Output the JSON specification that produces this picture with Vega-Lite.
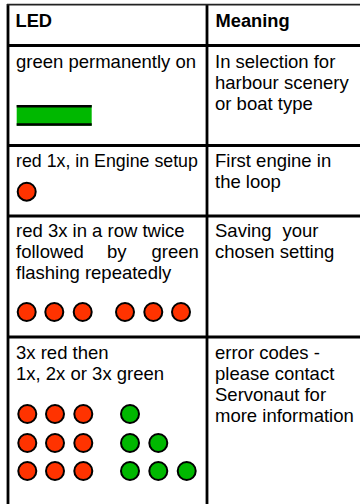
{
  "$schema": "https://vega.github.io/schema/vega-lite/v6.json",
  "width": 360,
  "height": 504,
  "autosize": {"type": "none"},
  "padding": 0,
  "background": "white",
  "config": {"view": {"stroke": null}},
  "datasets": {
    "grid": [
      {"x": 7, "x2": 360, "y": 45.5, "y2": 45.5},
      {"x": 7, "x2": 360, "y": 145.5, "y2": 145.5},
      {"x": 7, "x2": 360, "y": 216, "y2": 216},
      {"x": 7, "x2": 360, "y": 337, "y2": 337},
      {"x": 8, "x2": 8, "y": 4, "y2": 504},
      {"x": 207, "x2": 207, "y": 4, "y2": 504}
    ],
    "top": [
      {"x": 7, "x2": 360, "y": 4.7, "y2": 4.7}
    ],
    "bar": [
      {"x": 16.7, "x2": 91.7, "y": 105, "y2": 125.7}
    ],
    "barEdges": [
      {"x": 16.7, "x2": 91.7, "y": 106.3, "y2": 106.3},
      {"x": 16.7, "x2": 91.7, "y": 124.5, "y2": 124.5}
    ],
    "leds": [
      {"x": 26.7, "y": 191.7, "led": "red"},
      {"x": 26.7, "y": 312, "led": "red"},
      {"x": 54.3, "y": 312, "led": "red"},
      {"x": 82.7, "y": 312, "led": "red"},
      {"x": 125, "y": 312, "led": "red"},
      {"x": 153.3, "y": 312, "led": "red"},
      {"x": 181, "y": 312, "led": "red"},
      {"x": 27.3, "y": 414, "led": "red"},
      {"x": 55, "y": 414, "led": "red"},
      {"x": 83.3, "y": 414, "led": "red"},
      {"x": 130, "y": 414, "led": "green"},
      {"x": 27.3, "y": 443, "led": "red"},
      {"x": 55, "y": 443, "led": "red"},
      {"x": 83.3, "y": 443, "led": "red"},
      {"x": 130, "y": 443, "led": "green"},
      {"x": 158.3, "y": 443, "led": "green"},
      {"x": 27.3, "y": 471, "led": "red"},
      {"x": 55, "y": 471, "led": "red"},
      {"x": 83.3, "y": 471, "led": "red"},
      {"x": 130, "y": 471, "led": "green"},
      {"x": 158.3, "y": 471, "led": "green"},
      {"x": 186.7, "y": 471, "led": "green"}
    ],
    "headers": [
      {"x": 15.5, "y": 27, "t": "LED"},
      {"x": 215.5, "y": 27, "t": "Meaning"}
    ],
    "narrow": [
      {"x": 16, "y": 167, "t": "red 1x, in Engine setup"}
    ],
    "texts": [
      {"x": 16, "y": 68, "t": "green permanently on"},
      {"x": 215, "y": 68, "t": "In selection for"},
      {"x": 215, "y": 89, "t": "harbour scenery"},
      {"x": 215, "y": 110, "t": "or boat type"},
      {"x": 215, "y": 167, "t": "First engine in"},
      {"x": 215, "y": 188, "t": "the loop"},
      {"x": 16, "y": 237, "t": "red 3x in a row twice"},
      {"x": 16, "y": 258, "t": "followed"},
      {"x": 107, "y": 258, "t": "by"},
      {"x": 151.5, "y": 258, "t": "green"},
      {"x": 16, "y": 279, "t": "flashing repeatedly"},
      {"x": 215, "y": 237, "t": "Saving"},
      {"x": 282.5, "y": 237, "t": "your"},
      {"x": 215, "y": 258, "t": "chosen setting"},
      {"x": 16, "y": 359, "t": "3x red then"},
      {"x": 16, "y": 380, "t": "1x, 2x or 3x green"},
      {"x": 215, "y": 359, "t": "error codes -"},
      {"x": 215, "y": 380, "t": "please contact"},
      {"x": 215, "y": 401, "t": "Servonaut for"},
      {"x": 215, "y": 422, "t": "more information"}
    ]
  },
  "layer": [
    {
      "data": {"name": "bar"},
      "mark": {"type": "rect", "fill": "#00B800", "stroke": null},
      "encoding": {
        "x": {"field": "x", "type": "quantitative", "scale": {"domain": [0, 360], "nice": false, "zero": false}, "axis": null},
        "x2": {"field": "x2"},
        "y": {"field": "y", "type": "quantitative", "scale": {"domain": [0, 504], "nice": false, "zero": false, "reverse": true}, "axis": null},
        "y2": {"field": "y2"}
      }
    },
    {
      "data": {"name": "barEdges"},
      "mark": {"type": "rule", "color": "#000000", "strokeWidth": 2.6, "strokeCap": "butt"},
      "encoding": {
        "x": {"field": "x", "type": "quantitative", "axis": null},
        "x2": {"field": "x2"},
        "y": {"field": "y", "type": "quantitative", "axis": null},
        "y2": {"field": "y2"}
      }
    },
    {
      "data": {"name": "grid"},
      "mark": {"type": "rule", "color": "#000000", "strokeWidth": 2.8, "strokeCap": "butt"},
      "encoding": {
        "x": {"field": "x", "type": "quantitative", "axis": null},
        "x2": {"field": "x2"},
        "y": {"field": "y", "type": "quantitative", "axis": null},
        "y2": {"field": "y2"}
      }
    },
    {
      "data": {"name": "top"},
      "mark": {"type": "rule", "color": "#222222", "strokeWidth": 1.8, "strokeCap": "butt"},
      "encoding": {
        "x": {"field": "x", "type": "quantitative", "axis": null},
        "x2": {"field": "x2"},
        "y": {"field": "y", "type": "quantitative", "axis": null},
        "y2": {"field": "y2"}
      }
    },
    {
      "data": {"name": "leds"},
      "mark": {"type": "point", "shape": "circle", "filled": true, "size": 324, "stroke": "#000000", "strokeWidth": 2, "opacity": 1, "fillOpacity": 1, "strokeOpacity": 1},
      "encoding": {
        "x": {"field": "x", "type": "quantitative", "axis": null},
        "y": {"field": "y", "type": "quantitative", "axis": null},
        "fill": {"field": "led", "type": "nominal", "scale": {"domain": ["red", "green"], "range": ["#FF3300", "#00B800"]}, "legend": null}
      }
    },
    {
      "data": {"name": "headers"},
      "mark": {"type": "text", "align": "left", "baseline": "alphabetic", "font": "Liberation Sans", "fontSize": 18.3, "fontWeight": "bold", "color": "#000000"},
      "encoding": {
        "x": {"field": "x", "type": "quantitative", "axis": null},
        "y": {"field": "y", "type": "quantitative", "axis": null},
        "text": {"field": "t"}
      }
    },
    {
      "data": {"name": "narrow"},
      "mark": {"type": "text", "align": "left", "baseline": "alphabetic", "font": "Liberation Sans", "fontSize": 17.8, "color": "#000000"},
      "encoding": {
        "x": {"field": "x", "type": "quantitative", "axis": null},
        "y": {"field": "y", "type": "quantitative", "axis": null},
        "text": {"field": "t"}
      }
    },
    {
      "data": {"name": "texts"},
      "mark": {"type": "text", "align": "left", "baseline": "alphabetic", "font": "Liberation Sans", "fontSize": 18.5, "color": "#000000"},
      "encoding": {
        "x": {"field": "x", "type": "quantitative", "axis": null},
        "y": {"field": "y", "type": "quantitative", "axis": null},
        "text": {"field": "t"}
      }
    }
  ]
}
